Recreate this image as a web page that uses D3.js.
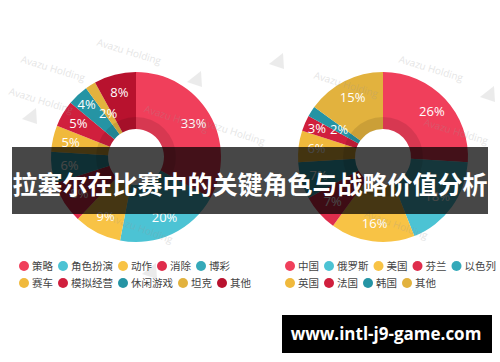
<!DOCTYPE html>
<html>
<head>
<meta charset="utf-8">
<script src="https://cdn.jsdelivr.net/npm/d3@7"></script>
<style>
  body { margin: 0; background: #fff; }
  svg { display: block; }
</style>
</head>
<body>
<div id="chart"></div>
<script>
const WIDTH = 500;
const HEIGHT = 362;

// left donut: game genres
const GENRES = ["策略", "角色扮演", "动作", "消除", "博彩", "赛车", "模拟经营", "休闲游戏", "坦克", "其他"];
const GENRE_SHARE = [33, 20, 9, 8, 6, 5, 5, 4, 2, 8];
const GENRE_COLORS = ["#f03f5b", "#4cc3d4", "#f8c345", "#df2d4c", "#35a9b9",
  "#f0b93c", "#d01f3d", "#2594a4", "#e2b23e", "#b8122e"];

// right donut: countries
const COUNTRIES = ["中国", "俄罗斯", "美国", "芬兰", "以色列", "英国", "法国", "韩国", "其他"];
const COUNTRY_SHARE = [26, 18, 16, 7, 7, 6, 3, 2, 15];
const COUNTRY_COLORS = ["#f03f5b", "#4cc3d4", "#f8c345", "#df2d4c", "#35a9b9",
  "#f0b93c", "#d01f3d", "#2594a4", "#e2b23e"];

const TITLE = "拉塞尔在比赛中的关键角色与战略价值分析";
const SITE = "www.intl-j9-game.com";

const OUTER_R = 85;
const INNER_R = 28;

// tiny slices get their label pulled in or pushed out so they don't collide
function labelRadius(v) {
  if (v <= 2) return 52;
  if (v <= 4) return 72;
  return 67;
}

const svg = d3.select("#chart")
  .append("svg")
  .attr("width", WIDTH)
  .attr("height", HEIGHT);

svg.append("rect")
  .attr("width", WIDTH)
  .attr("height", HEIGHT)
  .attr("fill", "#fff");

function drawDonut(cx, cy, names, values, colors) {
  const g = svg.append("g").attr("transform", "translate(" + cx + "," + cy + ")");
  const pie = d3.pie().sort(null).value((d) => d.v);
  const data = pie(names.map((n, i) => ({ name: n, v: values[i], c: colors[i] })));

  const arc = d3.arc().innerRadius(INNER_R).outerRadius(OUTER_R);
  g.selectAll("path.slice")
    .data(data)
    .enter()
    .append("path")
    .attr("class", "slice")
    .attr("d", arc)
    .attr("fill", (d) => d.data.c);

  // soft shadow ring around the hole
  g.append("path")
    .attr("d", d3.arc().innerRadius(INNER_R).outerRadius(40).startAngle(0).endAngle(2 * Math.PI)())
    .attr("fill", "#000")
    .attr("opacity", 0.1);

  g.selectAll("text.pct")
    .data(data)
    .enter()
    .append("text")
    .attr("class", "pct")
    .attr("transform", (d) => {
      const r = labelRadius(d.data.v);
      const c = d3.arc().innerRadius(r).outerRadius(r).centroid(d);
      return "translate(" + c + ")";
    })
    .attr("text-anchor", "middle")
    .attr("dy", "0.36em")
    .attr("font-family", "'Open Sans', sans-serif")
    .attr("font-size", "13px")
    .attr("fill", "#fff")
    .text((d) => d.data.v + "%");
}

drawDonut(136, 157, GENRES, GENRE_SHARE, GENRE_COLORS);
drawDonut(383, 157, COUNTRIES, COUNTRY_SHARE, COUNTRY_COLORS);

// faint watermark
const marks = [[52, 72, 17], [128, 55, 17], [175, 122, 18], [345, 88, 17], [430, 72, 17],
  [455, 135, 17], [40, 104, 17], [395, 228, 20], [140, 232, 20], [232, 135, 18]];
svg.append("g").selectAll("text")
  .data(marks)
  .enter()
  .append("text")
  .attr("transform", (d) => "translate(" + d[0] + "," + d[1] + ") rotate(" + d[2] + ")")
  .attr("text-anchor", "middle")
  .attr("font-family", "'Open Sans', sans-serif")
  .attr("font-size", "10px")
  .attr("fill", "#999")
  .attr("opacity", 0.25)
  .text("Avazu Holding");

const tris = [[195, 80], [30, 117], [277, 62], [488, 95], [150, 272]];
svg.append("g").selectAll("path")
  .data(tris)
  .enter()
  .append("path")
  .attr("d", (d) => "M" + (d[0] + 6) + "," + (d[1] - 9) + "L" + (d[0] - 8) + "," + (d[1] + 2)
    + "L" + (d[0] + 7) + "," + (d[1] + 7) + "Z")
  .attr("fill", "#999")
  .attr("opacity", 0.2);

// title banner
svg.append("rect")
  .attr("x", 12)
  .attr("y", 147)
  .attr("width", 476)
  .attr("height", 67)
  .attr("fill", "#000")
  .attr("opacity", 0.72);

svg.append("text")
  .attr("x", 250)
  .attr("y", 185)
  .attr("dy", "0.35em")
  .attr("text-anchor", "middle")
  .attr("font-family", "'Noto Sans CJK SC', sans-serif")
  .attr("font-weight", "bold")
  .attr("font-size", "25px")
  .attr("fill", "#fff")
  .text(TITLE);

// legends, two rows each, flowing left to right
function drawLegend(x0, names, colors, perRow) {
  const g = svg.append("g");
  let x = x0;
  names.forEach((n, i) => {
    if (i % perRow === 0) x = x0;
    const y = 266 + Math.floor(i / perRow) * 17;
    g.append("circle")
      .attr("cx", x)
      .attr("cy", y)
      .attr("r", 5)
      .attr("fill", colors[i]);
    const t = g.append("text")
      .attr("x", x + 8)
      .attr("y", y)
      .attr("dy", "0.35em")
      .attr("font-family", "'Noto Sans CJK SC', sans-serif")
      .attr("font-size", "10.5px")
      .attr("fill", "#444")
      .text(n);
    x = x + 8 + t.node().getComputedTextLength() + 10;
  });
}

drawLegend(24, GENRES, GENRE_COLORS, 5);
drawLegend(290, COUNTRIES, COUNTRY_COLORS, 5);

// site stamp
svg.append("rect")
  .attr("x", 282)
  .attr("y", 315)
  .attr("width", 210)
  .attr("height", 38)
  .attr("fill", "#000");

svg.append("text")
  .attr("x", 386)
  .attr("y", 334)
  .attr("dy", "0.35em")
  .attr("text-anchor", "middle")
  .attr("font-family", "'Open Sans', sans-serif")
  .attr("font-weight", "bold")
  .attr("font-size", "17px")
  .attr("fill", "#fff")
  .text(SITE);
</script>
</body>
</html>
